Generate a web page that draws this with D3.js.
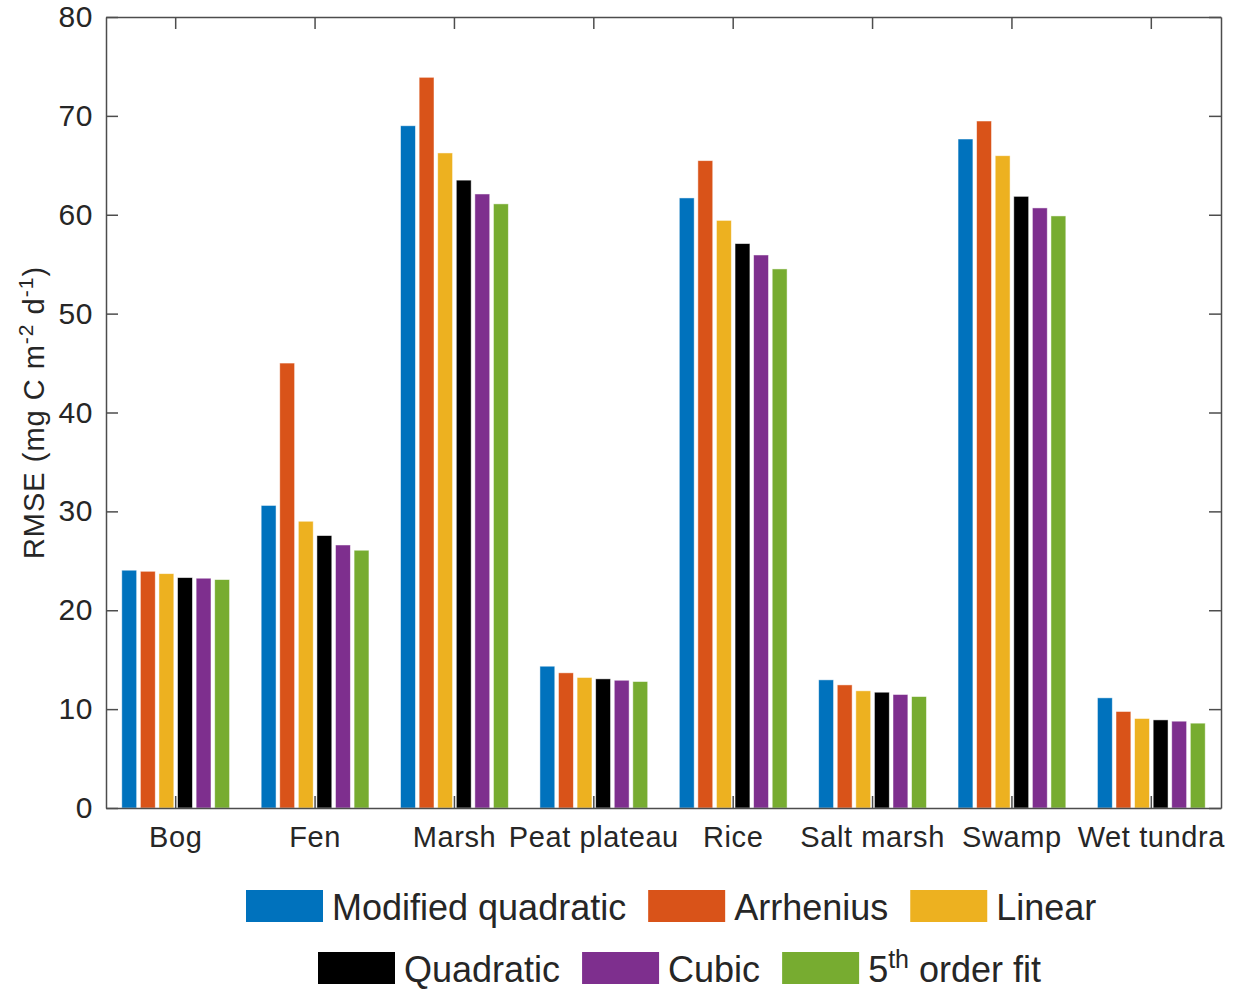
<!DOCTYPE html>
<html>
<head>
<meta charset="utf-8">
<script src="https://cdn.jsdelivr.net/npm/d3@7"></script>
<style>
  body { margin: 0; background: #fff; }
  svg text { font-family: "Liberation Sans", Arial, Helvetica, sans-serif; fill: #262626; }
</style>
</head>
<body>
<svg width="1237" height="991"></svg>
<script>
// data
var categories = ["Bog", "Fen", "Marsh", "Peat plateau", "Rice", "Salt marsh", "Swamp", "Wet tundra"];
var seriesNames = ["Modified quadratic", "Arrhenius", "Linear", "Quadratic", "Cubic", "5th order fit"];
var seriesColors = ["#0072BD", "#D95319", "#EDB120", "#000000", "#7E2F8E", "#77AC30"];

var modQuadratic = [24.05, 30.6, 69.0, 14.34, 61.7, 12.96, 67.66, 11.14];
var arrhenius    = [23.94, 45.0, 73.9, 13.67, 65.47, 12.45, 69.48, 9.76];
var linear       = [23.7, 29.0, 66.25, 13.2, 59.43, 11.85, 65.97, 9.05];
var quadratic    = [23.3, 27.55, 63.5, 13.06, 57.08, 11.71, 61.86, 8.91];
var cubic        = [23.24, 26.6, 62.1, 12.92, 55.93, 11.48, 60.69, 8.78];
var fifthOrder   = [23.1, 26.07, 61.1, 12.79, 54.52, 11.27, 59.88, 8.58];
var yTicks = [0, 10, 20, 30, 40, 50, 60, 70, 80];

var seriesValues = [modQuadratic, arrhenius, linear, quadratic, cubic, fifthOrder];

var svg = d3.select("svg"),
    margin = {top: 17, right: 16, bottom: 183, left: 106},
    width = +svg.attr("width") - margin.left - margin.right,
    height = +svg.attr("height") - margin.top - margin.bottom;

var axisColor = "#4d4d4d";

var x0 = d3.scaleBand().domain(categories).range([0, width]).padding(0);
var x1 = d3.scaleBand().domain(d3.range(seriesNames.length))
    .range([0, x0.bandwidth() * 0.8]).paddingInner(0.2).paddingOuter(0.1);
var y = d3.scaleLinear().domain([0, 80]).range([height, 0]);

var g = svg.append("g")
    .attr("transform", "translate(" + margin.left + "," + margin.top + ")");

// bars
var groups = g.selectAll(".group")
    .data(categories)
    .enter().append("g")
    .attr("class", "group")
    .attr("transform", function(d) { return "translate(" + (x0(d) + x0.bandwidth() * 0.1) + ",0)"; });

groups.selectAll("rect")
    .data(function(d, i) {
        return seriesValues.map(function(s, j) { return {series: j, value: s[i]}; });
    })
    .enter().append("rect")
    .attr("x", function(d) { return x1(d.series); })
    .attr("width", x1.bandwidth())
    .attr("y", function(d) { return y(d.value); })
    .attr("height", function(d) { return height - y(d.value); })
    .attr("fill", function(d) { return seriesColors[d.series]; })
    .attr("stroke", "#ffffff")
    .attr("stroke-opacity", 0.6)
    .attr("stroke-width", 0.8);

// axes (box with inward ticks)
var tickLen = 12;
var xAxisB = d3.axisBottom(x0).tickSizeInner(-tickLen).tickSizeOuter(0).tickPadding(18);
var xAxisT = d3.axisTop(x0).tickSizeInner(-tickLen).tickSizeOuter(0).tickFormat("");
var yAxisL = d3.axisLeft(y).tickValues(yTicks).tickSizeInner(-tickLen).tickSizeOuter(0).tickPadding(13);
var yAxisR = d3.axisRight(y).tickValues(yTicks).tickSizeInner(-tickLen).tickSizeOuter(0).tickFormat("");

function styleAxis(sel, fs) {
    sel.selectAll("path").attr("stroke", axisColor).attr("stroke-width", 1.5);
    sel.selectAll("line").attr("stroke", axisColor).attr("stroke-width", 1.5);
    sel.selectAll("text").style("font-size", fs + "px").attr("fill", "#262626")
        .style("letter-spacing", "0.6px")
        .style("font-family", "'Liberation Sans', Arial, Helvetica, sans-serif");
}

g.append("g").attr("transform", "translate(0," + height + ")").call(xAxisB).call(styleAxis, 29);
g.append("g").call(xAxisT).call(styleAxis, 29);
g.append("g").call(yAxisL).call(styleAxis, 30);
g.append("g").attr("transform", "translate(" + width + ",0)").call(yAxisR).call(styleAxis, 29);

// y label
var ylab = svg.append("text")
    .attr("transform", "translate(44," + (margin.top + height / 2) + ") rotate(-90)")
    .attr("text-anchor", "middle")
    .style("letter-spacing", "1px")
    .style("font-size", "29px");
ylab.append("tspan").text("RMSE (mg C m");
ylab.append("tspan").attr("dy", -11).style("font-size", "21px").text("-2");
ylab.append("tspan").attr("dy", 11).text(" d");
ylab.append("tspan").attr("dy", -11).style("font-size", "21px").text("-1");
ylab.append("tspan").attr("dy", 11).text(")");

// legend
var legendRows = [
    {start: 246, top: 890, items: [0, 1, 2]},
    {start: 318, top: 952, items: [3, 4, 5]}
];
var swW = 77, swH = 32;
legendRows.forEach(function(row) {
    var cx = row.start;
    row.items.forEach(function(i) {
        svg.append("rect")
            .attr("x", cx).attr("y", row.top)
            .attr("width", swW).attr("height", swH)
            .attr("fill", seriesColors[i]);
        var t = svg.append("text")
            .attr("x", cx + swW + 9)
            .attr("y", row.top + swH - 2)
            .style("font-size", "36px")
            .attr("fill", "#000");
        if (seriesNames[i] === "5th order fit") {
            t.append("tspan").text("5");
            t.append("tspan").attr("dy", -14).style("font-size", "25px").text("th");
            t.append("tspan").attr("dy", 14).text(" order fit");
        } else {
            t.text(seriesNames[i]);
        }
        cx = cx + swW + 9 + t.node().getComputedTextLength() + 22;
    });
});
</script>
</body>
</html>
